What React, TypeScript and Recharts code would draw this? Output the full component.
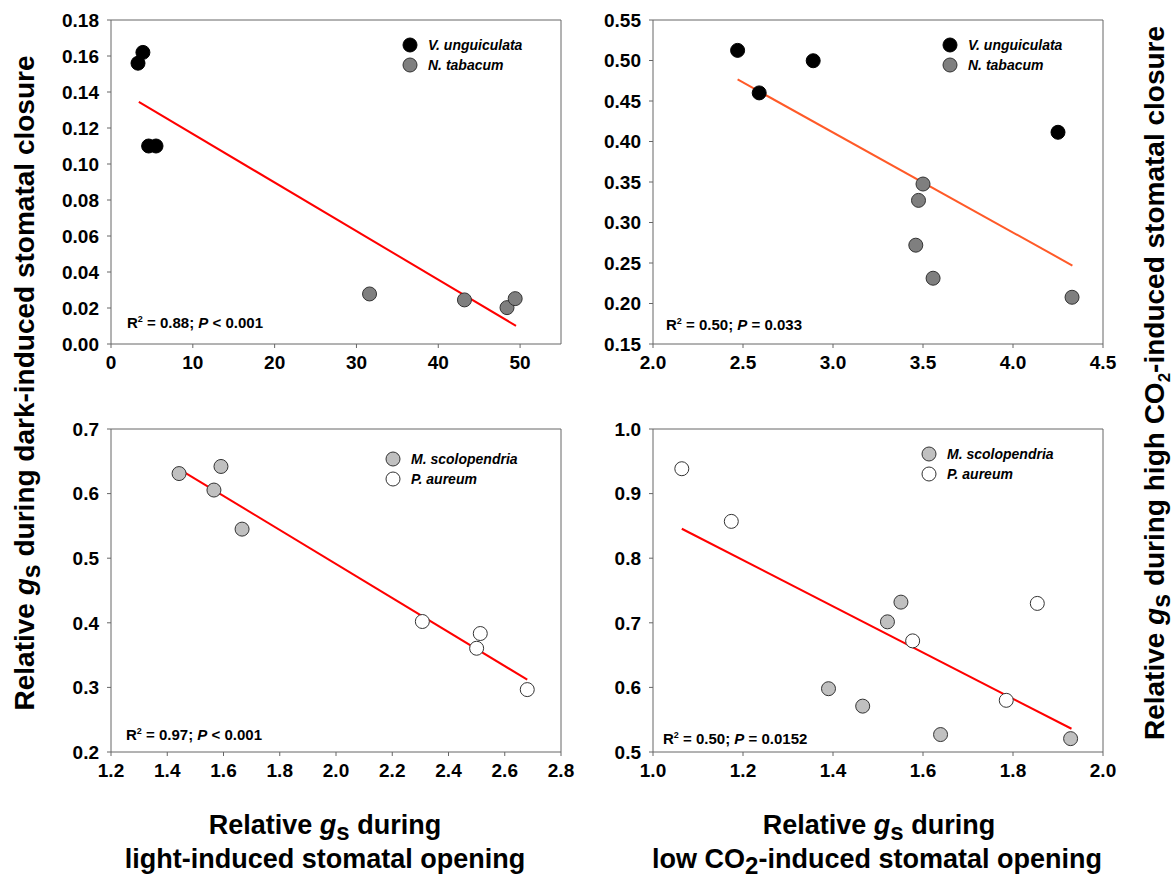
import { ScatterChart, Scatter, XAxis, YAxis, ReferenceLine, Legend } from "recharts";

type Pt = { x: number; y: number };

// top left: dark-induced closure vs light-induced opening (angiosperms)
const vUnguiculataLight: Pt[] = [
  { x: 3.3, y: 0.156 },
  { x: 3.9, y: 0.162 },
  { x: 4.6, y: 0.11 },
  { x: 5.5, y: 0.11 },
];
const nTabacumLight: Pt[] = [
  { x: 31.6, y: 0.0278 },
  { x: 43.2, y: 0.0245 },
  { x: 48.4, y: 0.0202 },
  { x: 49.4, y: 0.0252 },
];
const fitLightAngio: Pt[] = [
  { x: 3.4, y: 0.1345 },
  { x: 49.5, y: 0.0101 },
];

// top right: high CO2-induced closure vs low CO2-induced opening (angiosperms)
const vUnguiculataCO2: Pt[] = [
  { x: 2.47, y: 0.5125 },
  { x: 2.59, y: 0.46 },
  { x: 2.89, y: 0.4997 },
  { x: 4.25, y: 0.4114 },
];
const nTabacumCO2: Pt[] = [
  { x: 3.5, y: 0.3475 },
  { x: 3.475, y: 0.3273 },
  { x: 3.46, y: 0.272 },
  { x: 3.556, y: 0.2312 },
  { x: 4.328, y: 0.2077 },
];
const fitCO2Angio: Pt[] = [
  { x: 2.47, y: 0.4766 },
  { x: 4.33, y: 0.2469 },
];

// bottom left: ferns, light
const mScolopendriaLight: Pt[] = [
  { x: 1.442, y: 0.631 },
  { x: 1.591, y: 0.642 },
  { x: 1.566, y: 0.6055 },
  { x: 1.666, y: 0.545 },
];
const pAureumLight: Pt[] = [
  { x: 2.307, y: 0.402 },
  { x: 2.513, y: 0.3834 },
  { x: 2.5, y: 0.3606 },
  { x: 2.68, y: 0.2966 },
];
const fitLightFern: Pt[] = [
  { x: 1.442, y: 0.638 },
  { x: 2.68, y: 0.312 },
];

// bottom right: ferns, CO2
const mScolopendriaCO2: Pt[] = [
  { x: 1.551, y: 0.732 },
  { x: 1.521, y: 0.7015 },
  { x: 1.39, y: 0.598 },
  { x: 1.466, y: 0.571 },
  { x: 1.639, y: 0.527 },
  { x: 1.928, y: 0.5207 },
];
const pAureumCO2: Pt[] = [
  { x: 1.064, y: 0.9385 },
  { x: 1.174, y: 0.857 },
  { x: 1.577, y: 0.672 },
  { x: 1.854, y: 0.73 },
  { x: 1.785, y: 0.58 },
];
const fitCO2Fern: Pt[] = [
  { x: 1.064, y: 0.8456 },
  { x: 1.93, y: 0.536 },
];

const xTicksA = [0, 10, 20, 30, 40, 50];
const yTicksA = [0, 0.02, 0.04, 0.06, 0.08, 0.1, 0.12, 0.14, 0.16, 0.18];
const xTicksB = [2.0, 2.5, 3.0, 3.5, 4.0, 4.5];
const yTicksB = [0.15, 0.2, 0.25, 0.3, 0.35, 0.4, 0.45, 0.5, 0.55];
const xTicksC = [1.2, 1.4, 1.6, 1.8, 2.0, 2.2, 2.4, 2.6, 2.8];
const yTicksC = [0.2, 0.3, 0.4, 0.5, 0.6, 0.7];
const xTicksD = [1.0, 1.2, 1.4, 1.6, 1.8, 2.0];
const yTicksD = [0.5, 0.6, 0.7, 0.8, 0.9, 1.0];

const r2Values = ["0.88", "0.50", "0.97", "0.50"];
const pOps = ["<", "=", "<", "="];
const pValues = ["0.001", "0.033", "0.001", "0.0152"];

const FONT = '"Liberation Sans", Arial, Helvetica, sans-serif';
const AXIS = "#666";

interface Series {
  name: string;
  data: Pt[];
  fill: string;
  stroke: string;
}

interface PanelProps {
  left: number;
  top: number;
  plotLeft: number;
  plotTop: number;
  plotH: number;
  xDomain: [number, number];
  yDomain: [number, number];
  xTicks: number[];
  yTicks: number[];
  xDigits: number;
  yDigits: number;
  series: Series[];
  fit: Pt[];
  fitColor: string;
  legendX: number;
  legendY: number;
  statIdx: number;
  statX: number;
  statY: number;
}

const Dot = (fill: string, stroke: string) => (p: any) =>
  <circle cx={p.cx} cy={p.cy} r={7} fill={fill} stroke={stroke} strokeWidth={1} />;

function Panel(props: PanelProps) {
  const W = 580;
  const H = 380;
  const margin = {
    top: props.plotTop - props.top,
    left: props.plotLeft - props.left - 60,
    right: W - (props.plotLeft - props.left) - 450,
    bottom: H - (props.plotTop - props.top) - props.plotH - 30,
  };
  const tickStyle = { fill: "#000", fontSize: 19, fontWeight: "bold", fontFamily: FONT };
  const legendContent = () => (
    <div style={{ fontFamily: FONT, fontSize: 14, fontWeight: "bold", fontStyle: "italic" }}>
      {props.series.map((s) => (
        <div key={s.name} style={{ display: "flex", alignItems: "center", height: 20 }}>
          <svg width={16} height={16} style={{ marginRight: 10 }}>
            <circle cx={8} cy={8} r={7} fill={s.fill} stroke={s.stroke} strokeWidth={1} />
          </svg>
          <span>{s.name}</span>
        </div>
      ))}
    </div>
  );
  const i = props.statIdx;
  return (
    <div style={{ position: "absolute", left: props.left, top: props.top, width: W, height: H }}>
      <ScatterChart width={W} height={H} margin={margin}>
        <XAxis
          type="number"
          dataKey="x"
          domain={props.xDomain}
          ticks={props.xTicks}
          interval={0}
          height={30}
          tickSize={4}
          tickMargin={8}
          tick={tickStyle}
          tickFormatter={(v: number) => v.toFixed(props.xDigits)}
          axisLine={{ stroke: AXIS }}
          tickLine={{ stroke: AXIS }}
          allowDataOverflow
        />
        <YAxis
          type="number"
          dataKey="y"
          domain={props.yDomain}
          ticks={props.yTicks}
          interval={0}
          width={60}
          tickSize={4}
          tickMargin={8}
          tick={tickStyle}
          tickFormatter={(v: number) => v.toFixed(props.yDigits)}
          axisLine={{ stroke: AXIS }}
          tickLine={{ stroke: AXIS }}
          allowDataOverflow
        />
        <ReferenceLine y={props.yDomain[1]} stroke={AXIS} />
        <ReferenceLine x={props.xDomain[1]} stroke={AXIS} />
        <Scatter
          data={props.fit}
          line={{ stroke: props.fitColor, strokeWidth: 2 }}
          shape={() => <g />}
          legendType="none"
          isAnimationActive={false}
        />
        {props.series.map((s) => (
          <Scatter
            key={s.name}
            name={s.name}
            data={s.data}
            fill={s.fill}
            shape={Dot(s.fill, s.stroke)}
            isAnimationActive={false}
          />
        ))}
        <Legend
          layout="vertical"
          align="center"
          verticalAlign="middle"
          content={legendContent}
          wrapperStyle={{
            left: props.legendX - props.left - 8,
            top: props.legendY - props.top - 10,
            width: "auto",
          }}
        />
      </ScatterChart>
      <svg
        width={W}
        height={H}
        style={{ position: "absolute", left: 0, top: 0, pointerEvents: "none" }}
      >
        <text
          x={props.statX - props.left}
          y={props.statY - props.top + 5}
          fontFamily={FONT}
          fontSize={15}
          fontWeight="bold"
          fill="#000"
        >
          R
          <tspan fontSize={9} dy={-6}>
            2
          </tspan>
          <tspan dy={6}> = {r2Values[i]}; </tspan>
          <tspan fontStyle="italic">P</tspan>
          <tspan>
            {" "}
            {pOps[i]} {pValues[i]}
          </tspan>
        </text>
      </svg>
    </div>
  );
}

export default function App() {
  const titleStyle = { fontFamily: FONT, fontSize: 27, fontWeight: "bold" as const, fill: "#000" };
  const sideStyle = { ...titleStyle, fontSize: 28 };
  return (
    <div
      style={{
        position: "absolute",
        left: 0,
        top: 0,
        width: 1175,
        height: 879,
        background: "#fff",
        overflow: "hidden",
      }}
    >
      <Panel
        left={0}
        top={0}
        plotLeft={111}
        plotTop={20}
        plotH={324}
        xDomain={[0, 55]}
        yDomain={[0, 0.18]}
        xTicks={xTicksA}
        yTicks={yTicksA}
        xDigits={0}
        yDigits={2}
        series={[
          { name: "V. unguiculata", data: vUnguiculataLight, fill: "#000", stroke: "#000" },
          { name: "N. tabacum", data: nTabacumLight, fill: "#7f7f7f", stroke: "#333" },
        ]}
        fit={fitLightAngio}
        fitColor="#ff0000"
        legendX={410}
        legendY={45}
        statIdx={0}
        statX={127}
        statY={323}
      />
      <Panel
        left={580}
        top={0}
        plotLeft={653}
        plotTop={20}
        plotH={324}
        xDomain={[2.0, 4.5]}
        yDomain={[0.15, 0.55]}
        xTicks={xTicksB}
        yTicks={yTicksB}
        xDigits={1}
        yDigits={2}
        series={[
          { name: "V. unguiculata", data: vUnguiculataCO2, fill: "#000", stroke: "#000" },
          { name: "N. tabacum", data: nTabacumCO2, fill: "#7f7f7f", stroke: "#333" },
        ]}
        fit={fitCO2Angio}
        fitColor="#ff5a28"
        legendX={950}
        legendY={45}
        statIdx={1}
        statX={666}
        statY={325}
      />
      <Panel
        left={0}
        top={409}
        plotLeft={111}
        plotTop={429}
        plotH={323}
        xDomain={[1.2, 2.8]}
        yDomain={[0.2, 0.7]}
        xTicks={xTicksC}
        yTicks={yTicksC}
        xDigits={1}
        yDigits={1}
        series={[
          { name: "M. scolopendria", data: mScolopendriaLight, fill: "#c0c0c0", stroke: "#333" },
          { name: "P. aureum", data: pAureumLight, fill: "#ffffff", stroke: "#333" },
        ]}
        fit={fitLightFern}
        fitColor="#ff0000"
        legendX={393}
        legendY={459}
        statIdx={2}
        statX={126}
        statY={735}
      />
      <Panel
        left={580}
        top={409}
        plotLeft={653}
        plotTop={429}
        plotH={323}
        xDomain={[1.0, 2.0]}
        yDomain={[0.5, 1.0]}
        xTicks={xTicksD}
        yTicks={yTicksD}
        xDigits={1}
        yDigits={1}
        series={[
          { name: "M. scolopendria", data: mScolopendriaCO2, fill: "#c0c0c0", stroke: "#333" },
          { name: "P. aureum", data: pAureumCO2, fill: "#ffffff", stroke: "#333" },
        ]}
        fit={fitCO2Fern}
        fitColor="#ff0000"
        legendX={929}
        legendY={454}
        statIdx={3}
        statX={663}
        statY={739}
      />
      <svg
        width={1175}
        height={879}
        style={{ position: "absolute", left: 0, top: 0, pointerEvents: "none" }}
      >
        <text
          transform="translate(34,383) rotate(-90)"
          textAnchor="middle"
          {...sideStyle}
        >
          Relative <tspan fontStyle="italic">g</tspan>
          <tspan fontSize={25} dy={6}>s</tspan>
          <tspan dy={-6}> during dark-induced stomatal closure</tspan>
        </text>
        <text
          transform="translate(1164,383) rotate(-90)"
          textAnchor="middle"
          {...sideStyle}
        >
          Relative <tspan fontStyle="italic">g</tspan>
          <tspan fontSize={25} dy={6}>s</tspan>
          <tspan dy={-6}> during high CO</tspan>
          <tspan fontSize={17} dy={6}>2</tspan>
          <tspan dy={-6}>-induced stomatal closure</tspan>
        </text>
        <text x={325} y={834} textAnchor="middle" {...titleStyle}>
          Relative <tspan fontStyle="italic">g</tspan>
          <tspan fontSize={24} dy={6}>s</tspan>
          <tspan dy={-6}> during</tspan>
        </text>
        <text x={325} y={868} textAnchor="middle" {...titleStyle}>
          light-induced stomatal opening
        </text>
        <text x={879} y={834} textAnchor="middle" {...titleStyle}>
          Relative <tspan fontStyle="italic">g</tspan>
          <tspan fontSize={24} dy={6}>s</tspan>
          <tspan dy={-6}> during</tspan>
        </text>
        <text x={877} y={868} textAnchor="middle" {...titleStyle}>
          low CO<tspan fontSize={24} dy={6}>2</tspan>
          <tspan dy={-6}>-induced stomatal opening</tspan>
        </text>
      </svg>
    </div>
  );
}
